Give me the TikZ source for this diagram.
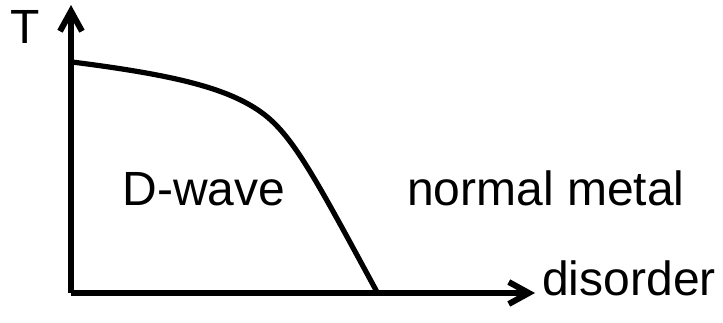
\documentclass[tikz,border=0pt]{standalone}
\usepackage{fontspec}
\setmainfont{Liberation Sans}
\usetikzlibrary{arrows.meta, positioning}
\tikzset{
	axisline/.style={line width=3pt, -{Straight Barb[length=10pt, width=11pt]}},
	phaseline/.style={line width=2.6pt, line join=round, line cap=round},
	lbl/.style={font=\fontsize{24}{29}\selectfont, inner sep=0pt, anchor=base},
}
\begin{document}
\begin{tikzpicture}[x=0.5pt, y=-0.5pt]
	\useasboundingbox (0,0) rectangle (723,322);
	\coordinate (o) at (71,293);
	\coordinate (ytop) at (71,5);
	\coordinate (xend) at (535,293);
	\draw[axisline] (o) -- (ytop);
	\draw[axisline] (o) -- (xend);
	% phase boundary
	\coordinate (tc) at (72,62);
	\coordinate (knee) at (258,110);
	\coordinate (dc) at (377,292);
	\draw[phaseline] (tc) .. controls (175,75) and (225,88) .. (knee)
		.. controls (291,132) and (312,172) .. (dc);
	\node[lbl] (tlab) at (25,43) {T};
	\node[lbl] (dwave) at (204,205) {D-wave};
	\node[lbl] (normal) at (546,205) {normal metal};
	\node[lbl] (dis) at (629,295) {disorder};
\end{tikzpicture}
\end{document}
